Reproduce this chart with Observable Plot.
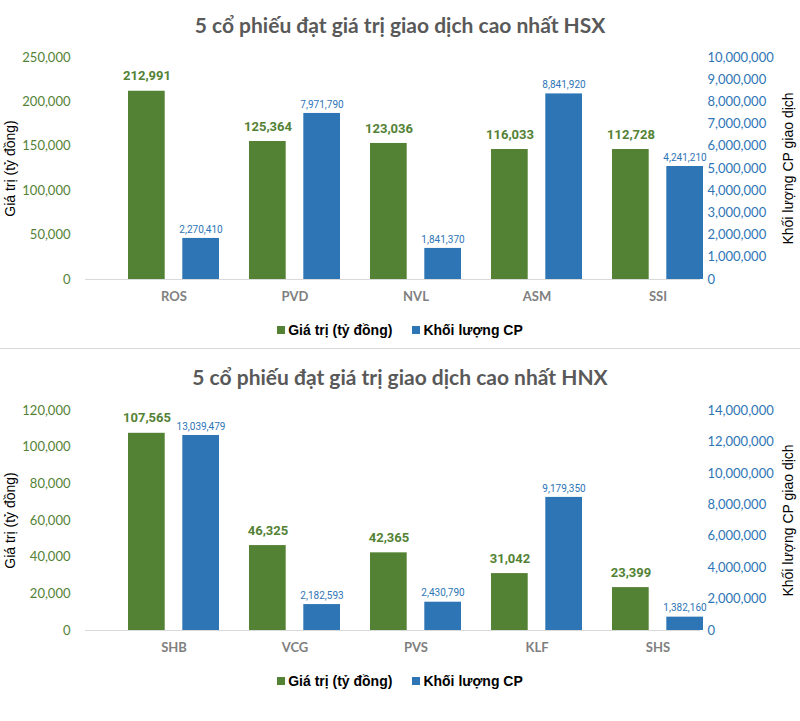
<!DOCTYPE html>
<html><head><meta charset="utf-8">
<script src="https://cdn.jsdelivr.net/npm/d3@7"></script>
<script src="https://cdn.jsdelivr.net/npm/@observablehq/plot@0.6"></script>
<style>
body{margin:0;background:#fff;width:800px;}
.chart{position:relative;width:800px;}
.title{font-family:Lato,'Open Sans',sans-serif;font-weight:700;font-size:21px;color:#595959;text-align:center;white-space:nowrap;}
.legend{display:flex;justify-content:center;gap:20px;font-family:'Liberation Sans',Arial,sans-serif;font-weight:bold;font-size:14px;color:#000;align-items:center;}
.legend span.item{display:flex;align-items:center;}
.sw{display:inline-block;width:8px;height:8px;margin-right:3px;}
svg{display:block}
</style></head><body>
<div id="c1" class="chart" style="height:348px;border-bottom:1px solid #d9d9d9">
  <div class="title" style="padding-top:6px;height:38px;line-height:38px">5 cổ phiếu đạt giá trị giao dịch cao nhất HSX</div>
  <div id="p1"></div>
  <div class="legend" style="height:36px;line-height:36px">
    <span class="item"><span class="sw" style="background:#548235"></span>Giá trị (tỷ đồng)</span>
    <span class="item"><span class="sw" style="background:#2E75B6"></span>Khối lượng CP</span>
  </div>
</div>
<div id="c2" class="chart" style="height:372px">
  <div class="title" style="padding-top:9px;height:38px;line-height:38px">5 cổ phiếu đạt giá trị giao dịch cao nhất HNX</div>
  <div id="p2"></div>
  <div class="legend" style="height:34px;line-height:34px">
    <span class="item"><span class="sw" style="background:#548235"></span>Giá trị (tỷ đồng)</span>
    <span class="item"><span class="sw" style="background:#2E75B6"></span>Khối lượng CP</span>
  </div>
</div>
<script>
// ---- HSX data ----
const hsxCategories = ["ROS", "PVD", "NVL", "ASM", "SSI"];
// printed data labels
const hsxValueLabels = [212991, 125364, 123036, 116033, 112728];
const hsxVolumeLabels = [2270410, 7971790, 1841370, 8841920, 4241210];
// bar heights as drawn in the picture (read against the axes)
const hsxValueBars = [212000, 155400, 153200, 146400, 146400];
const hsxVolumeBars = [1850000, 7480000, 1400000, 8360000, 5090000];
const hsxValueTicks = [0, 50000, 100000, 150000, 200000, 250000];
const hsxVolumeTicks = [0, 1000000, 2000000, 3000000, 4000000, 5000000, 6000000, 7000000, 8000000, 9000000, 10000000];

// ---- HNX data ----
const hnxCategories = ["SHB", "VCG", "PVS", "KLF", "SHS"];
const hnxValueLabels = [107565, 46325, 42365, 31042, 23399];
const hnxVolumeLabels = [13039479, 2182593, 2430790, 9179350, 1382160];
const hnxValueBars = [107565, 46325, 42365, 31042, 23399];
const hnxVolumeBars = [12410000, 1650000, 1800000, 8470000, 850000];
const hnxValueTicks = [0, 20000, 40000, 60000, 80000, 100000, 120000];
const hnxVolumeTicks = [0, 2000000, 4000000, 6000000, 8000000, 10000000, 12000000, 14000000];

const leftTitle = "Giá trị (tỷ đồng)";
const rightTitle = "Khối lượng CP giao dịch";

const GREEN = "#548235", BLUE = "#2E75B6";
const fmt = d3.format(",");
const narrow = "'Liberation Sans Narrow','Arial Narrow',Roboto,sans-serif";
const arial = "'Liberation Sans',Arial,sans-serif";

function makeChart({cats, valBars, volBars, valLabels, volLabels, vTicks, volTicks, marginTop, height, marginBottom}) {
  const vMax = vTicks[vTicks.length - 1];
  const volMax = volTicks[volTicks.length - 1];
  const k = vMax / volMax; // secondary axis -> primary axis units
  const rows = cats.map((c, i) => ({cat: c, val: valBars[i], volS: volBars[i] * k, valLab: valLabels[i], volLab: volLabels[i]}));
  return Plot.plot({
    width: 800, height, marginTop, marginBottom, marginLeft: 85, marginRight: 100,
    style: {fontFamily: "Lato, sans-serif", background: "#fff", overflow: "visible"},
    x: {domain: cats, range: [112.4, 719], padding: 0, axis: null},
    y: {domain: [0, vMax], axis: null},
    marks: [
      Plot.axisY(vTicks, {anchor: "left", tickSize: 0, tickPadding: 15, tickFormat: fmt, color: GREEN, fill: GREEN, fontSize: 13, label: null}),
      Plot.axisY(volTicks.map(v => v * k), {anchor: "right", tickSize: 0, tickPadding: 7, tickFormat: d => fmt(Math.round(d / k)), color: BLUE, fill: BLUE, fontSize: 13, label: null}),
      Plot.axisX({tickSize: 0, tickPadding: 12, color: "#7F7F7F", fill: "#7F7F7F", fontWeight: "bold", fontSize: 13, label: null}),
      Plot.ruleY([0], {stroke: "#D9D9D9", strokeWidth: 1}),
      Plot.barY(rows, {x: "cat", y: "val", fill: GREEN, insetLeft: 15, insetRight: 69.3}),
      Plot.barY(rows, {x: "cat", y: "volS", fill: BLUE, insetLeft: 69.3, insetRight: 15}),
      Plot.text(rows, {x: "cat", y: "val", text: d => fmt(d.valLab), dx: -27, dy: -15, fill: GREEN, fontWeight: "bold", fontSize: 13, fontFamily: narrow}),
      Plot.text(rows, {x: "cat", y: "volS", text: d => fmt(d.volLab), dx: 27, dy: -9, fill: BLUE, fontSize: 10, fontFamily: narrow}),
      Plot.text([leftTitle], {text: d => d, frameAnchor: "left", textAnchor: "middle", rotate: -90, dx: -75, fill: "#000", fontSize: 14, fontFamily: arial}),
      Plot.text([rightTitle], {text: d => d, frameAnchor: "right", textAnchor: "middle", rotate: -90, dx: 88, fill: "#000", fontSize: 14, fontFamily: arial})
    ]
  });
}

document.getElementById("p1").append(makeChart({
  cats: hsxCategories, valBars: hsxValueBars, volBars: hsxVolumeBars, valLabels: hsxValueLabels, volLabels: hsxVolumeLabels,
  vTicks: hsxValueTicks, volTicks: hsxVolumeTicks, marginTop: 13, height: 268, marginBottom: 33
}));
document.getElementById("p2").append(makeChart({
  cats: hnxCategories, valBars: hnxValueBars, volBars: hnxVolumeBars, valLabels: hnxValueLabels, volLabels: hnxVolumeLabels,
  vTicks: hnxValueTicks, volTicks: hnxVolumeTicks, marginTop: 14, height: 268, marginBottom: 34
}));
</script>
</body></html>
